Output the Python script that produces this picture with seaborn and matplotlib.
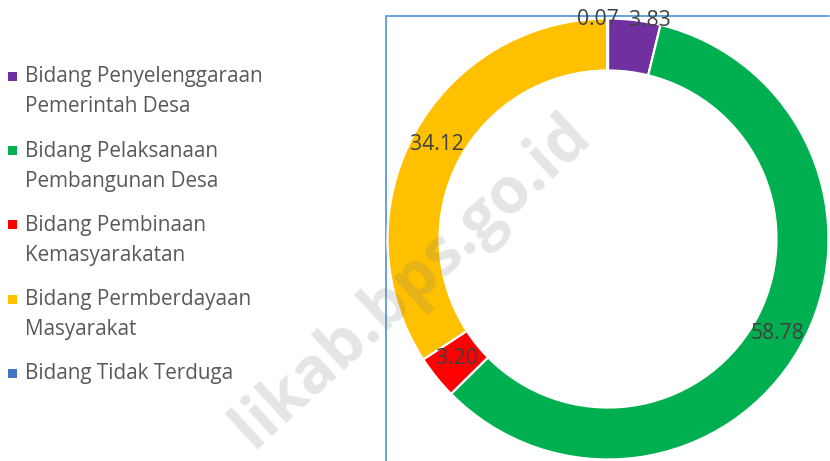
import numpy as np
import matplotlib
matplotlib.use("Agg")
import matplotlib.pyplot as plt
from matplotlib.patches import Rectangle
import seaborn as sns

# ---- data ----
categories = [
    "Bidang Penyelenggaraan\nPemerintah Desa",
    "Bidang Pelaksanaan\nPembangunan Desa",
    "Bidang Pembinaan\nKemasyarakatan",
    "Bidang Permberdayaan\nMasyarakat",
    "Bidang Tidak Terduga",
]
values = [3.83, 58.78, 3.20, 34.12, 0.07]
value_labels = ["3.83", "58.78", "3.20", "34.12", "0.07"]
colors = ["#7030A0", "#00B050", "#FF0000", "#FFC000", "#4472C4"]

sns.set_theme(style="white")
plt.rcParams["font.family"] = ["Open Sans", "DejaVu Sans"]

W, H = 830, 461
fig = plt.figure(figsize=(W / 100, H / 100), dpi=100)
ax = fig.add_axes([0, 0, 1, 1])

cx, cy = 608, H - 239
r_out, r_in = 220.5, 168.5

wedges, _ = ax.pie(
    values, colors=colors, startangle=90, counterclock=False,
    center=(cx, cy), radius=r_out,
    wedgeprops=dict(width=r_out - r_in, edgecolor="white", linewidth=1.6),
)
ax.set_xlim(0, W)
ax.set_ylim(0, H)
ax.set_aspect("equal")
ax.axis("off")

# plot-area frame
ax.plot([386, 386, 829], [0, H - 16.5, H - 16.5], color="#5B9BD5", lw=1.3,
        zorder=0, solid_joinstyle="miter")

# data labels
lab_fs = 15.2
r_mid = (r_out + r_in) / 2
for w, lab in zip(wedges, value_labels):
    ang = np.deg2rad((w.theta1 + w.theta2) / 2)
    if lab == "0.07":
        x, y = cx + r_out * np.cos(ang), cy + r_out * np.sin(ang)
        ax.annotate(lab, (x, y), xytext=(11, -1), textcoords="offset pixels",
                    ha="right", va="center", fontsize=lab_fs, color="#404040")
    elif lab == "3.83":
        x, y = cx + r_out * np.cos(ang), cy + r_out * np.sin(ang)
        ax.annotate(lab, (x, y), xytext=(-5, 0), textcoords="offset pixels",
                    ha="left", va="center", fontsize=lab_fs, color="#404040")
    else:
        x, y = cx + r_mid * np.cos(ang), cy + r_mid * np.sin(ang)
        ax.text(x, y + 2, lab, ha="center", va="center", fontsize=lab_fs,
                color="#404040")

# legend (manual, Excel-style)
leg_fs = 14.9
y0 = 77
step = 74
for i, (cat, col) in enumerate(zip(categories, colors)):
    yy = y0 + i * step
    ax.add_patch(Rectangle((8, H - yy - 4.5), 9, 9, color=col, lw=0))
    for j, line in enumerate(cat.split("\n")):
        ax.text(25, H - yy - 30 * j, line, ha="left", va="center",
                fontsize=leg_fs, color="#595959")

# watermark
ax.text(412, H - 282, "likab.bps.go.id", rotation=42.5, rotation_mode="anchor",
        ha="center", va="center", fontsize=46, fontweight="bold",
        color="#7F7F7F", alpha=0.2, zorder=10)

fig.savefig("out.png", dpi=100)
